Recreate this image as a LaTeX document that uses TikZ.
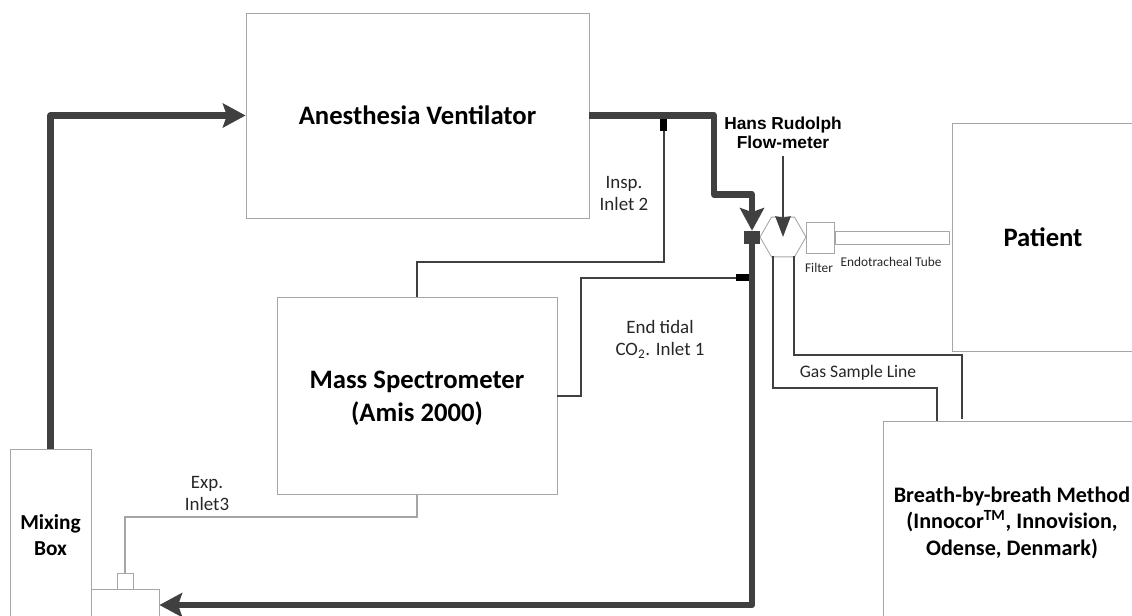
\documentclass[tikz,border=0pt]{standalone}
\usepackage{fontspec}
\setmainfont{Carlito}
\newfontfamily\arialf{Liberation Sans}
\usetikzlibrary{arrows.meta,shapes.geometric}
\definecolor{thick}{HTML}{404040}
\definecolor{boxline}{HTML}{A6A6A6}
\tikzset{
  unit/.style={x=0.75pt,y=-0.75pt},
  box/.style={draw=boxline,line width=0.65pt,fill=white,inner sep=0pt,align=center,font=\bfseries\fontsize{20}{25}\selectfont},
  smallbox/.style={draw=boxline,line width=0.65pt,fill=white,inner sep=0pt},
  pipe/.style={draw=thick,line width=4.9pt,line join=round},
  pipearrow/.style={pipe,-{Stealth[length=17pt,width=18pt,inset=3pt]}},
  sampleline/.style={draw=thick,line width=1.5pt,line join=miter},
  lightline/.style={draw=boxline,line width=0.8pt},
  marker/.style={fill=black,inner sep=0pt},
  lbl/.style={inner sep=0pt,align=center,text=black!85,font=\fontsize{14.2}{17}\selectfont},
  gaslabel/.style={inner sep=0pt,align=center,text=black!85,font=\fontsize{13.2}{16}\selectfont},
  tiny/.style={inner sep=0pt,align=center,text=black!85,font=\fontsize{10}{12}\selectfont},
  headlbl/.style={inner sep=0pt,align=center,font=\arialf\bfseries\fontsize{13}{14.3}\selectfont},
  boxlabel/.style={inner sep=0pt,align=center,font=\bfseries\fontsize{20}{25}\selectfont},
}
\begin{document}
\begin{tikzpicture}[unit]
\useasboundingbox (0,0) rectangle (1132,615);
\clip (0,0) rectangle (1132,615);
% boxes
\node[box,minimum width=343*0.75pt,minimum height=205*0.75pt] (anes) at (417.5,115.5) {Anesthesia Ventilator};
\node[box,minimum width=280*0.75pt,minimum height=197*0.75pt] (mass) at (417,395.5) {};
\node[boxlabel] (masslbl) at (417,398) {Mass Spectrometer\\(Amis 2000)};
\node[box,minimum width=81*0.75pt,minimum height=172*0.75pt,font=\bfseries\fontsize{16}{19.5}\selectfont] (mix) at (50.5,535) {Mixing\\Box};
\node[smallbox,minimum width=68*0.75pt,minimum height=40*0.75pt] (inbox) at (125,609) {};
\node[smallbox,minimum width=16*0.75pt,minimum height=16*0.75pt] (port) at (125,581) {};
\node[box,minimum width=182*0.75pt,minimum height=228*0.75pt] (patient) at (1043,237) {Patient};
\node[box,minimum width=258*0.75pt,minimum height=203*0.75pt,font=\bfseries\fontsize{16.6}{19.8}\selectfont] (breath) at (1012,522.5) {Breath-by-breath Method\\(Innocor\textsuperscript{TM}, Innovision,\\Odense, Denmark)};
% flow path parts
\node[smallbox,regular polygon,regular polygon sides=6,minimum size=46*0.75pt] (hex) at (783,237) {};
\node[smallbox,minimum width=28*0.75pt,minimum height=31*0.75pt] (filter) at (820,237.5) {};
\node[smallbox,minimum width=114*0.75pt,minimum height=13*0.75pt] (tube) at (892,237.5) {};
\node[marker,fill=thick,minimum width=16*0.75pt,minimum height=13*0.75pt] (junction) at (752,237.5) {};
\node[marker,minimum width=7*0.75pt,minimum height=12*0.75pt] (mark2) at (663.5,125) {};
\node[marker,minimum width=13*0.75pt,minimum height=7*0.75pt] (mark1) at (742.5,277.5) {};
% bends
\coordinate (b1) at (714,115.5);
\coordinate (b2) at (714,194.5);
\coordinate (b3) at (752,194.5);
\coordinate (b4) at (752,605);
\coordinate (flowtop) at (783,156);
\coordinate (flowtip) at (783,237);
\coordinate (mass2) at (417,262);
\coordinate (mass1) at (581,396);
\coordinate (exp1) at (417,517);
\coordinate (exp2) at (125,517);
\coordinate (gas1a) at (773,388);
\coordinate (gas1b) at (937,388);
\coordinate (gas1c) at (937,421);
\coordinate (gas2a) at (794,355);
\coordinate (gas2b) at (961.5,355);
\coordinate (gas2c) at (961.5,419);
\coordinate (gas1s) at (773,256);
\coordinate (gas2s) at (794,256);
% thick pipes
\draw[pipearrow] (mix.north) |- (anes.west);
\draw[pipe] (anes.east) -- (b1) -- (b2) -- (b3) -- ++(0,10);
\draw[pipearrow] (b3) -- (junction.north);
\draw[pipe] (junction.south) -- (b4) -- ++(-30,0);
\draw[pipearrow] (b4) -- (inbox.east |- b4);
% sample lines
\draw[sampleline] (mass.north) -- (mass2) -| (mark2.south);
\draw[sampleline] (mass.east |- mass1) -- (mass1) |- (mark1.west);
\draw[lightline] (mass.south) -- (exp1) -- (exp2) -- (port.north);
\draw[sampleline] (gas1s) -- (gas1a) -- (gas1b) -- (gas1c);
\draw[sampleline] (gas2s) -- (gas2a) -- (gas2b) -- (gas2c);
\draw[draw=thick,line width=1.5pt,-{Stealth[length=15.5pt,width=11.5pt,inset=1pt]}] (flowtop) -- (flowtip);
% labels
\node[headlbl] (hanslbl) at (783,132.5) {Hans Rudolph\\Flow-meter};
\node[lbl] (insplbl) at (624,193.5) {Insp.\\Inlet 2};
\node[lbl] (endlbl) at (660,339.5) {End tidal\\CO\textsubscript{2}. Inlet 1};
\node[lbl] (explbl) at (207,493.5) {Exp.\\Inlet3};
\node[gaslabel] (gaslbl) at (858,373) {Gas Sample Line};
\node[tiny] (filterlbl) at (819,268) {Filter};
\node[tiny] (tubelbl) at (891,262) {Endotracheal Tube};
\end{tikzpicture}
\end{document}
